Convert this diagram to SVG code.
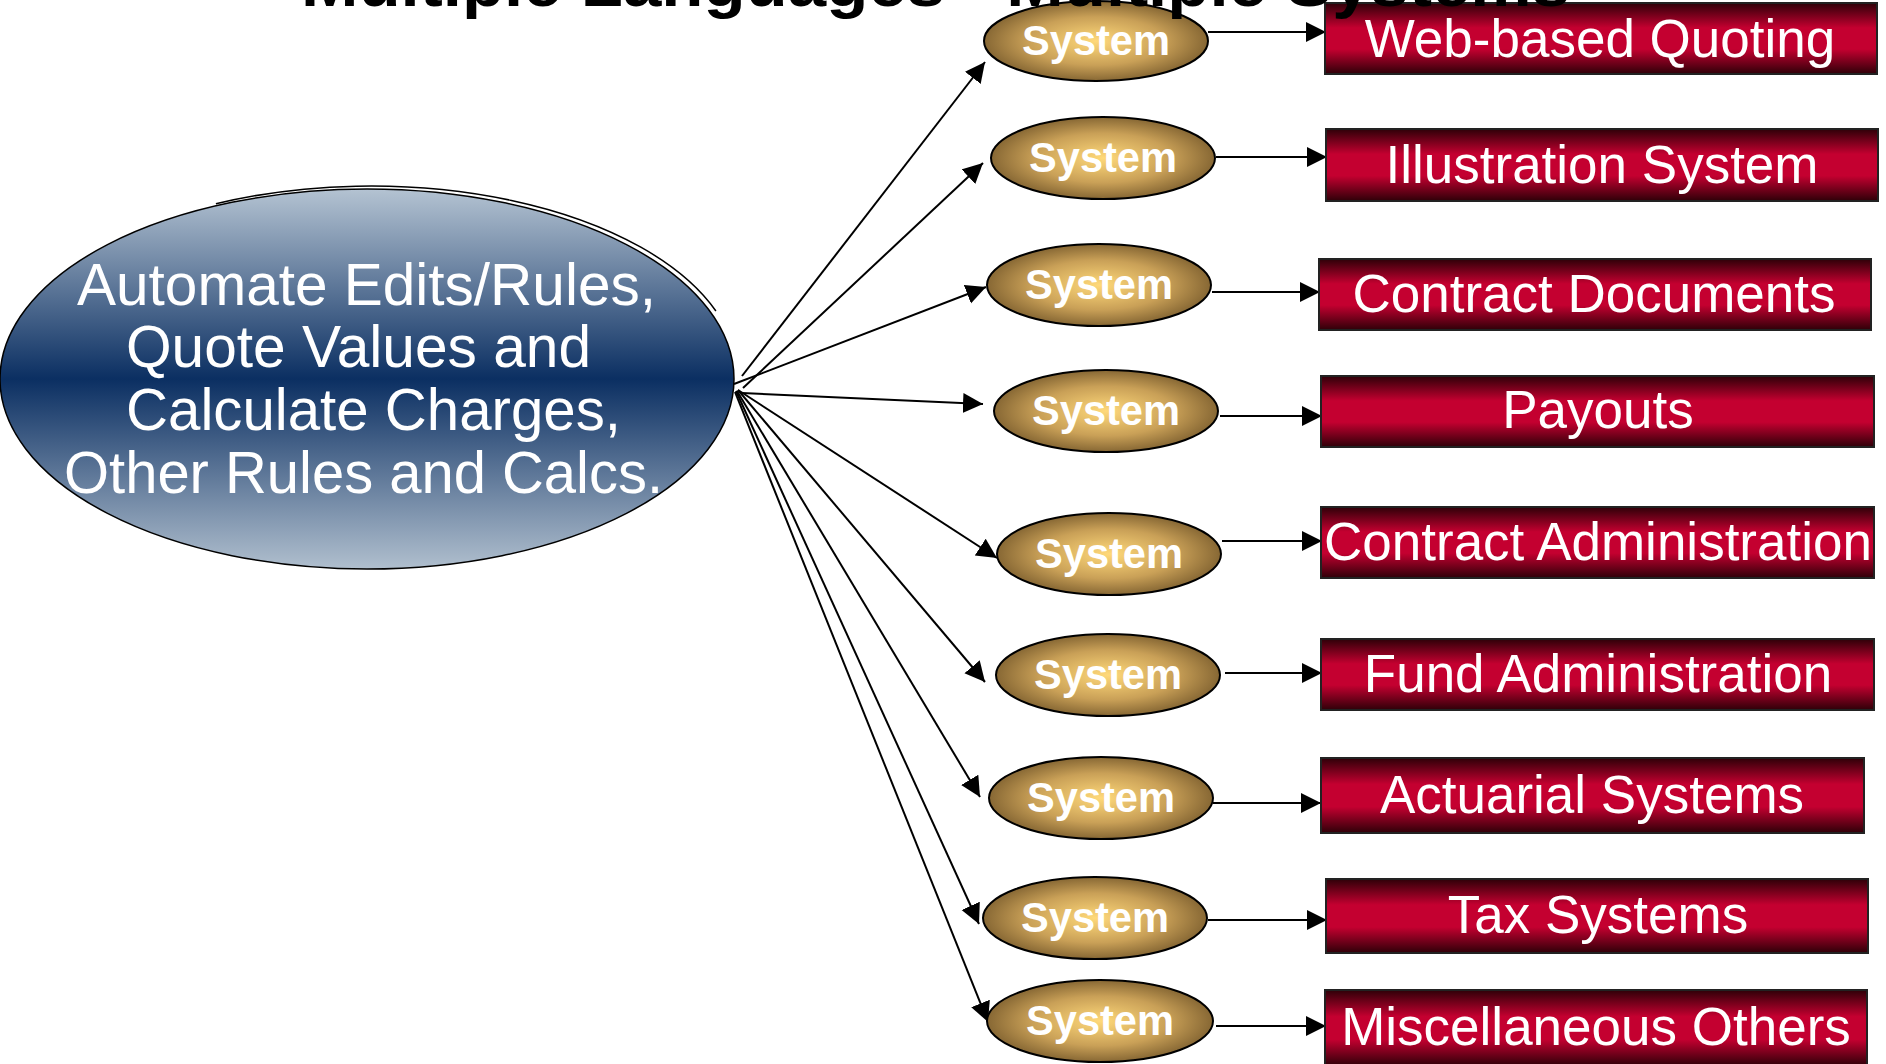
<svg xmlns="http://www.w3.org/2000/svg" width="1886" height="1064" viewBox="0 0 1886 1064">
<defs>
<linearGradient id="bigGrad" x1="0" y1="0" x2="0" y2="1">
<stop offset="0" stop-color="#b4c3d2"/>
<stop offset="0.5" stop-color="#0b2f62"/>
<stop offset="1" stop-color="#b0bfce"/>
</linearGradient>
<radialGradient id="goldGrad" cx="0.5" cy="0.5" r="0.55">
<stop offset="0" stop-color="#ffd97a"/>
<stop offset="0.55" stop-color="#c9a057"/>
<stop offset="1" stop-color="#76592b"/>
</radialGradient>
<linearGradient id="redGrad" x1="0" y1="0" x2="0" y2="1">
<stop offset="0" stop-color="#2e0008"/>
<stop offset="0.35" stop-color="#c40030"/>
<stop offset="0.65" stop-color="#c40030"/>
<stop offset="1" stop-color="#2e0008"/>
</linearGradient>
<marker id="arr" markerUnits="userSpaceOnUse" markerWidth="22" markerHeight="22" refX="20" refY="10" orient="auto">
<path d="M0,0 L20,10 L0,20 z" fill="#000"/>
</marker>
</defs>
<style>
.sys{fill:url(#goldGrad);stroke:#000;stroke-width:2}
.sysT{font-family:"Liberation Sans",Arial,sans-serif;font-weight:bold;font-size:43px;fill:#fff;text-anchor:middle}
.box{fill:url(#redGrad);stroke:#222;stroke-width:2}
.boxT{font-family:"Liberation Sans",Arial,sans-serif;font-size:53px;fill:#fff;text-anchor:middle}
.mainT{font-family:"Liberation Sans",Arial,sans-serif;font-size:60px;fill:#fff}
.con{stroke:#000;stroke-width:2;fill:none;marker-end:url(#arr)}
</style>
<rect width="1886" height="1064" fill="#fff"/>

<g id="main">
<path d="M215.9,203.8 A367,190 0 0 1 715.9,311" fill="none" stroke="#000" stroke-width="1.5"/>
<ellipse cx="367" cy="379" rx="367" ry="190" fill="url(#bigGrad)" stroke="#000" stroke-width="1.5"/>
<text class="mainT" x="77" y="305" textLength="579" lengthAdjust="spacingAndGlyphs">Automate Edits/Rules,</text>
<text class="mainT" x="126" y="367" textLength="465" lengthAdjust="spacingAndGlyphs">Quote Values and</text>
<text class="mainT" x="126" y="430" textLength="495" lengthAdjust="spacingAndGlyphs">Calculate Charges,</text>
<text class="mainT" x="64" y="493" textLength="599" lengthAdjust="spacingAndGlyphs">Other Rules and Calcs.</text>
</g>

<g id="connectors">
<line class="con" x1="742" y1="376" x2="985" y2="62"/>
<line class="con" x1="743" y1="388" x2="983" y2="163"/>
<line class="con" x1="734" y1="384" x2="986" y2="287"/>
<line class="con" x1="742" y1="393" x2="983" y2="404"/>
<line class="con" x1="738" y1="390" x2="997" y2="558"/>
<line class="con" x1="738" y1="390" x2="985" y2="682"/>
<line class="con" x1="737" y1="391" x2="980" y2="797"/>
<line class="con" x1="736" y1="391" x2="979" y2="924"/>
<line class="con" x1="735" y1="392" x2="988" y2="1022"/>
<line class="con" x1="1208" y1="32" x2="1326" y2="32"/>
<line class="con" x1="1216" y1="157" x2="1327" y2="157"/>
<line class="con" x1="1212" y1="292" x2="1320" y2="292"/>
<line class="con" x1="1220" y1="416" x2="1322" y2="416"/>
<line class="con" x1="1222" y1="541" x2="1322" y2="541"/>
<line class="con" x1="1225" y1="673" x2="1322" y2="673"/>
<line class="con" x1="1213" y1="803" x2="1321" y2="803"/>
<line class="con" x1="1208" y1="920" x2="1327" y2="920"/>
<line class="con" x1="1216" y1="1026" x2="1326" y2="1026"/>
</g>

<g id="sys1"><ellipse class="sys" cx="1096" cy="41" rx="112" ry="40"/><text class="sysT" x="1096" y="55" textLength="148" lengthAdjust="spacingAndGlyphs">System</text></g>
<g id="sys2"><ellipse class="sys" cx="1103" cy="158" rx="112" ry="41"/><text class="sysT" x="1103" y="172" textLength="148" lengthAdjust="spacingAndGlyphs">System</text></g>
<g id="sys3"><ellipse class="sys" cx="1099" cy="285" rx="112" ry="41"/><text class="sysT" x="1099" y="299" textLength="148" lengthAdjust="spacingAndGlyphs">System</text></g>
<g id="sys4"><ellipse class="sys" cx="1106" cy="411" rx="112" ry="41"/><text class="sysT" x="1106" y="425" textLength="148" lengthAdjust="spacingAndGlyphs">System</text></g>
<g id="sys5"><ellipse class="sys" cx="1109" cy="554" rx="112" ry="41"/><text class="sysT" x="1109" y="568" textLength="148" lengthAdjust="spacingAndGlyphs">System</text></g>
<g id="sys6"><ellipse class="sys" cx="1108" cy="675" rx="112" ry="41"/><text class="sysT" x="1108" y="689" textLength="148" lengthAdjust="spacingAndGlyphs">System</text></g>
<g id="sys7"><ellipse class="sys" cx="1101" cy="798" rx="112" ry="41"/><text class="sysT" x="1101" y="812" textLength="148" lengthAdjust="spacingAndGlyphs">System</text></g>
<g id="sys8"><ellipse class="sys" cx="1095" cy="918" rx="112" ry="41"/><text class="sysT" x="1095" y="932" textLength="148" lengthAdjust="spacingAndGlyphs">System</text></g>
<g id="sys9"><ellipse class="sys" cx="1100" cy="1021" rx="113" ry="41"/><text class="sysT" x="1100" y="1035" textLength="148" lengthAdjust="spacingAndGlyphs">System</text></g>

<g id="box1"><rect class="box" x="1325" y="3" width="552" height="71"/><text class="boxT" x="1600" y="57">Web-based Quoting</text></g>
<g id="box2"><rect class="box" x="1326" y="129" width="552" height="72"/><text class="boxT" x="1602" y="183">Illustration System</text></g>
<g id="box3"><rect class="box" x="1319" y="259" width="552" height="71"/><text class="boxT" x="1594" y="312">Contract Documents</text></g>
<g id="box4"><rect class="box" x="1321" y="376" width="553" height="71"/><text class="boxT" x="1598" y="428">Payouts</text></g>
<g id="box5"><rect class="box" x="1321" y="507" width="553" height="71"/><text class="boxT" x="1598" y="560">Contract Administration</text></g>
<g id="box6"><rect class="box" x="1321" y="639" width="553" height="71"/><text class="boxT" x="1598" y="692">Fund Administration</text></g>
<g id="box7"><rect class="box" x="1321" y="758" width="543" height="75"/><text class="boxT" x="1592" y="813">Actuarial Systems</text></g>
<g id="box8"><rect class="box" x="1326" y="879" width="542" height="74"/><text class="boxT" x="1598" y="933">Tax Systems</text></g>
<g id="box9"><rect class="box" x="1325" y="990" width="542" height="76"/><text class="boxT" x="1596" y="1045">Miscellaneous Others</text></g>

<text id="title" x="301" y="6" font-family="Liberation Sans, Arial, sans-serif" font-weight="bold" font-size="64" fill="#000" textLength="1269" lengthAdjust="spacingAndGlyphs">Multiple Languages - Multiple Systems</text>
</svg>
